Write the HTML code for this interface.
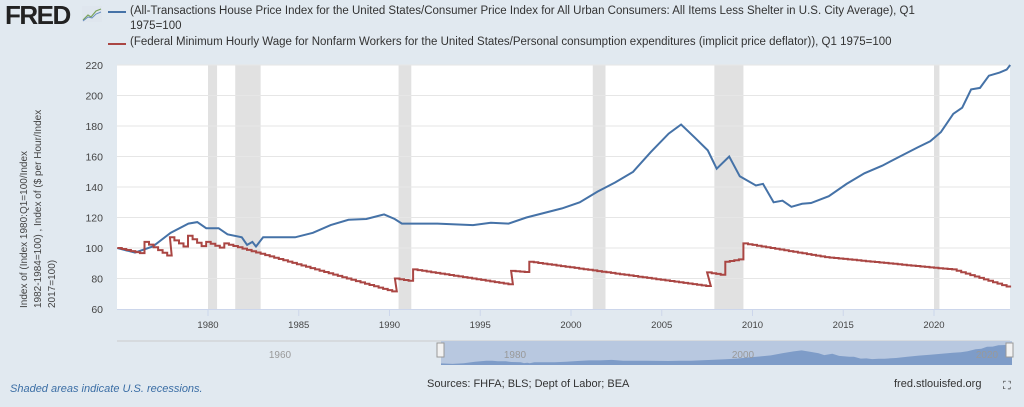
<!DOCTYPE html>
<html><head><meta charset="utf-8">
<style>
body{margin:0;width:1024px;height:407px;background:#e1e9f0;font-family:"Liberation Sans",sans-serif;overflow:hidden;position:relative}
.t{position:absolute;white-space:nowrap}
</style></head><body>
<div class="t" style="left:5px;top:0px;font-size:26px;font-weight:bold;letter-spacing:-1.5px;color:#222">FRED</div>
<svg class="t" style="left:82px;top:6px" width="20" height="16"><rect width="20" height="16" fill="#dfe6ee"/><polyline points="1,14 6,9 9,11 14,5 19,3" fill="none" stroke="#7aa35a" stroke-width="1.2"/><polyline points="1,15 6,11 10,12 14,8 19,6" fill="none" stroke="#6a8fc0" stroke-width="1"/></svg>
<div class="t" style="left:108px;top:11px;width:18px;height:2px;background:#4572a7"></div>
<div class="t" style="left:130px;top:4px;font-size:11.5px;color:#333;line-height:15px">(All-Transactions House Price Index for the United States/Consumer Price Index for All Urban Consumers: All Items Less Shelter in U.S. City Average), Q1<br>1975=100</div>
<div class="t" style="left:108px;top:43px;width:18px;height:2px;background:#aa4643"></div>
<div class="t" style="left:130px;top:36px;font-size:11.5px;color:#333">(Federal Minimum Hourly Wage for Nonfarm Workers for the United States/Personal consumption expenditures (implicit price deflator)), Q1 1975=100</div>
<svg id="s" class="t" style="left:0;top:0" width="1024" height="407"></svg>
<div class="t" style="left:10px;top:383px;font-size:11px;font-style:italic;color:#3b6ea5">Shaded areas indicate U.S. recessions.</div>
<div class="t" style="left:427px;top:378px;font-size:11px;color:#333">Sources: FHFA; BLS; Dept of Labor; BEA</div>
<div class="t" style="left:894px;top:378px;font-size:11px;color:#333">fred.stlouisfed.org</div>
<div class="t" style="left:1003px;top:380px;font-size:11px;color:#333">⛶</div>
<script>
var s=document.getElementById('s'),h='';
function X(y){return 208+(y-1980)*18.15}
function Y(v){return 309-(v-60)*1.525}
h+='<rect x="117" y="65" width="893" height="244" fill="#fff"/>';
[[1980,1980.5],[1981.5,1982.9],[1990.5,1991.2],[2001.2,2001.9],[2007.9,2009.5],[2020,2020.3]].forEach(function(r){h+='<rect x="'+X(r[0])+'" y="65" width="'+(X(r[1])-X(r[0]))+'" height="244" fill="#e1e1e1"/>'});
for(var v=80;v<=220;v+=20)h+='<line x1="117" x2="1010" y1="'+Y(v)+'" y2="'+Y(v)+'" stroke="#e6e6e6"/>';
for(var v=60;v<=220;v+=20)h+='<text x="103" y="'+(Y(v)+4)+'" font-size="10.5" fill="#444" text-anchor="end">'+v+'</text>';
for(var y=1980;y<=2020;y+=5){h+='<text x="'+X(y)+'" y="328" font-size="9.5" fill="#444" text-anchor="middle">'+y+'</text><line x1="'+X(y)+'" x2="'+X(y)+'" y1="309" y2="316" stroke="#ccd6eb"/>';}
h+='<line x1="117" x2="1010" y1="309.5" y2="309.5" stroke="#ccd6eb"/>';
h+='<text transform="translate(27,308) rotate(-90)" font-size="10" fill="#444" text-anchor="start"><tspan x="0" y="0">Index of (Index 1980:Q1=100/Index</tspan><tspan x="0" y="14">1982-1984=100) , Index of ($ per Hour/Index</tspan><tspan x="0" y="28">2017=100)</tspan></text>';
var b=[[1975,100],[1976,97],[1977,101],[1978,110],[1979,116],[1979.5,117],[1980,113],[1980.7,113],[1981.2,109],[1982,107],[1982.3,102],[1982.6,104],[1982.8,101],[1983.2,107],[1985,107],[1986,110],[1987,115],[1988,118.5],[1989,119],[1990,122],[1990.6,119],[1991,116],[1993,116],[1995,115],[1996,116.5],[1997,116],[1998,120],[2000,126],[2001,130],[2002,137],[2003,143],[2004,150],[2005,163],[2006,175],[2006.7,181],[2007.5,172],[2008.2,164],[2008.7,152],[2009.4,160],[2010,147],[2010.9,141],[2011.3,142],[2011.9,130],[2012.4,131],[2012.9,127],[2013.5,129],[2014,129.5],[2015,134],[2016,142],[2017,149],[2018,154],[2019,160],[2020,166],[2020.7,170],[2021.3,176],[2022,188],[2022.5,192],[2023,204],[2023.5,205],[2024,213],[2024.6,215],[2025,217],[2025.2,220]];
function pl(a,c){return '<polyline fill="none" stroke="'+c+'" stroke-width="2" points="'+a.map(function(p){return X(p[0]).toFixed(1)+','+Y(p[1]).toFixed(1)}).join(' ')+'"/>'}
b=b.map(function(p){return [1975+(p[0]-1975)*(2024.2-1975)/(2025.2-1975),p[1]]});
h+=pl(b,'#4572a7');
var r=[];
function seg(a,bb,v0,v1){for(var t=a;t<bb-0.01;t+=0.25){var v=v0+(v1-v0)*(t-a)/(bb-a);r.push([t,v]);r.push([t+0.25,v]);}}
seg(1975,1976.5,100,96);seg(1976.5,1977.9,104,94);seg(1977.9,1978.9,107,99);seg(1978.9,1979.9,108,99);seg(1979.9,1980.9,104,99);seg(1980.9,1990.3,103,71);seg(1990.3,1991.3,80,78);seg(1991.3,1996.7,86,76);seg(1996.7,1997.7,85,84);seg(1997.7,2007.5,91,75);seg(2007.5,2008.5,84,82);seg(2008.5,2009.5,91,93);seg(2009.5,2014,103,94);seg(2014,2020,94,87);seg(2020,2021,87,86);seg(2021,2024.2,86,74);
h+=pl(r,'#aa4643');
h+='<line x1="117" x2="1010" y1="341" y2="341" stroke="#ccc"/>';
h+='<rect x="441" y="341" width="571" height="24" fill="#b8c8e0"/>';
var nb='441,365 ';b.forEach(function(p){nb+=(441+(p[0]-1975)*(571/49.2)).toFixed(1)+','+(365-(p[1]-90)*0.16).toFixed(1)+' '});nb+='1012,365';
h+='<polygon points="'+nb+'" fill="#7e9cc8"/>';
h+='<text x="280" y="358" font-size="10" fill="#999" text-anchor="middle">1960</text><text x="515" y="358" font-size="10" fill="#999" text-anchor="middle">1980</text><text x="743" y="358" font-size="10" fill="#999" text-anchor="middle">2000</text><text x="987" y="358" font-size="10" fill="#999" text-anchor="middle">2020</text>';
h+='<rect x="437" y="343" width="7" height="14" fill="#f2f2f2" stroke="#999"/><rect x="1006" y="343" width="7" height="14" fill="#f2f2f2" stroke="#999"/>';
s.innerHTML=h;
</script>
</body></html>
